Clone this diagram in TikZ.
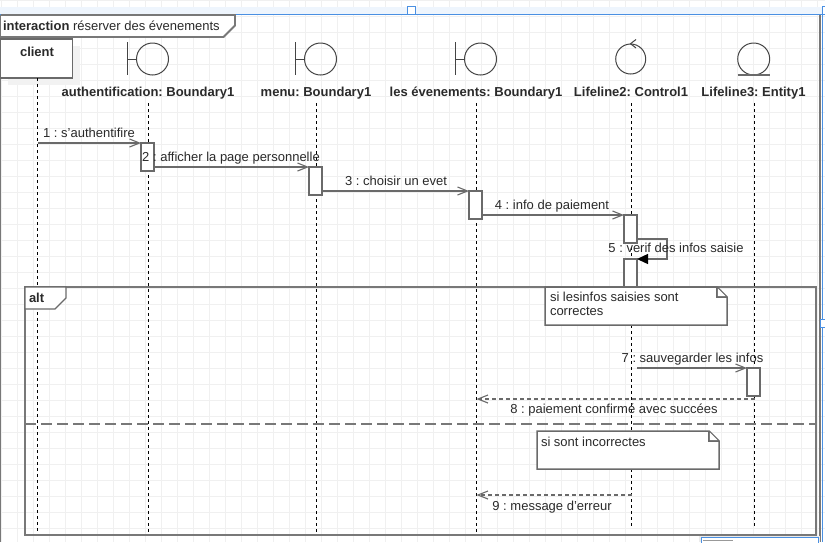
\documentclass[tikz,border=0pt]{standalone}
\usepackage{fontspec}
\setmainfont{Liberation Sans}
\usetikzlibrary{arrows.meta}
\definecolor{gridc}{HTML}{F0F0F0}
\definecolor{linec}{HTML}{6A6A6A}
\definecolor{framec}{HTML}{787878}
\definecolor{textc}{HTML}{2A2A2A}
\definecolor{iconc}{HTML}{444444}
\definecolor{bluec}{HTML}{4A90E2}
\definecolor{stripc}{HTML}{EEF5FD}
\tikzset{
 txt/.style={inner sep=0,outer sep=0,text=textc,font=\fontsize{13}{13.5}\selectfont\frenchspacing,anchor=base},
 boldtxt/.style={txt,font=\fontsize{13}{13.5}\selectfont\bfseries\frenchspacing},
 lifeline/.style={draw=black,line width=1pt,dash pattern=on 3pt off 3pt},
 act/.style={draw=linec,line width=1.4pt,fill=white,inner sep=0,outer sep=0,minimum width=13pt},
 msg/.style={draw=linec,line width=1.4pt,-{Straight Barb[length=10pt,width=8pt,line width=1.1pt]}},
 ret/.style={msg,dash pattern=on 4pt off 3pt},
 selfmsg/.style={draw=linec,line width=1.4pt,-{Triangle[length=11pt,width=10pt,black]}},
 icon/.style={draw=iconc,line width=1pt},
 frameline/.style={draw=framec,line width=1.8pt},
 notebox/.style={draw=linec,line width=1.5pt,fill=white,line join=miter},
 handle/.style={draw=bluec,line width=0.8pt,fill=white},
}
\begin{document}
\begin{tikzpicture}[x=1pt,y=-1pt]
\useasboundingbox (0,0) rectangle (825,542);
\fill[white] (0,0) rectangle (825,542);
% grid
\foreach \gx in {1,17,...,825} \draw[gridc,line width=1pt] (\gx,0) -- (\gx,542);
\foreach \gy in {0,16,...,542} \draw[gridc,line width=1pt] (0,\gy) -- (825,\gy);
% top strip
\fill[stripc] (0,7) rectangle (825,14);
% outer frame
\draw[frameline] (0.5,15) -- (0.5,542);
\draw[frameline] (820,15) -- (820,542);
\draw[bluec,line width=1.2pt] (0,14.5) -- (825,14.5);
\draw[bluec,line width=1pt] (822,15) -- (822,542);
\node[handle,minimum size=8pt,inner sep=0] (h1) at (411,10.5) {};
\node[handle,minimum size=8pt,inner sep=0] (h2) at (826,10.5) {};
\node[handle,minimum size=8pt,inner sep=0] (h3) at (824,323) {};
% lifeline coordinates
\coordinate (ltA) at (148.5,103); \coordinate (lbA) at (148.5,532);
\coordinate (ltM) at (316.5,103); \coordinate (lbM) at (316.5,532);
\coordinate (ltE) at (476.5,103); \coordinate (lbE) at (476.5,532);
\coordinate (ltC) at (631.5,103); \coordinate (lbC) at (631.5,527);
\coordinate (ltN) at (754.5,103); \coordinate (lbN) at (754.5,527);
\coordinate (lbK) at (37.5,532);
% client
\fill[black!5] (8,46) rectangle (80,85);
\node[draw=linec,line width=1.5pt,fill=white,inner sep=0,outer sep=0,minimum width=72pt,minimum height=39pt] (client) at (36.5,58.5) {};
\node[boldtxt] (clientt) at (37,56) {client};
% lifelines
\draw[lifeline] (client.south -| lbK) -- (lbK);
\draw[lifeline] (ltA) -- (lbA);
\draw[lifeline] (ltM) -- (lbM);
\draw[lifeline] (ltE) -- (lbE);
\draw[lifeline] (ltC) -- (lbC);
\draw[lifeline] (ltN) -- (lbN);
% boundary icons
\foreach \cx in {152.5,320.5,480.5}{
 \draw[icon] (\cx,59) circle (16);
 \draw[icon] (\cx-25,42) -- (\cx-25,75);
 \draw[icon] (\cx-25,59) -- (\cx-16,59);
}
% control icon
\draw[icon] (630.7,59) circle (15);
\draw[icon] (636,39.5) -- (630.5,43.7) -- (636,48);
% entity icon
\draw[icon] (753.7,59) circle (16);
\draw[linec,line width=1.8pt] (737.5,75) -- (769.5,75);
% header labels
\node[boldtxt] (nA) at (148,96) {authentification: Boundary1};
\node[boldtxt] (nM) at (316,96) {menu: Boundary1};
\node[boldtxt] (nE) at (476,96) {les évenements: Boundary1};
\node[boldtxt] (nC) at (631,96) {Lifeline2: Control1};
\node[boldtxt] (nN) at (753.5,96) {Lifeline3: Entity1};
% interaction frame tag
\draw[frameline,fill=white] (1,15) -- (235,15) -- (235,25.5) -- (223.5,37) -- (1,37);
\node[txt,anchor=base west] (ftag) at (3,30) {\textbf{interaction} réserver des évenements};
% activations
\node[act,minimum height=28pt] (a1) at (147.5,157) {};
\node[act,minimum height=28pt] (a2) at (315.5,181) {};
\node[act,minimum height=28pt] (a3) at (475.5,205) {};
\node[act,minimum height=28pt] (a4) at (630.5,229) {};
\node[act,minimum height=28pt] (a5) at (630.5,273) {};
\node[act,minimum height=28pt] (a6) at (753.5,382) {};
% alt frame
\draw[frameline] (25,287) rectangle (816,535);
\draw[frameline,dash pattern=on 11pt off 5pt] (25,424) -- (816,424);
\draw[draw=linec,line width=1.3pt,fill=white] (25,287) -- (66,287) -- (66,298) -- (55,309) -- (25,309) -- cycle;
\node[boldtxt,anchor=base west] (altt) at (29,302) {alt};
% messages
\coordinate (s1) at (38,143);
\draw[msg] (s1) -- (a1.north west);
\node[txt] (t1) at (89,137) {1 : s'authentifire};
\draw[msg] (a1.east |- a2.north west) -- (a2.north west);
\node[txt] (t2) at (231,161) {2 : afficher la page personnelle};
\draw[msg] (a2.east |- a3.north west) -- (a3.north west);
\node[txt] (t3) at (396,185) {3 : choisir un evet};
\draw[msg] (a3.east |- a4.north west) -- (a4.north west);
\node[txt] (t4) at (552,209) {4 : info de paiement};
\draw[selfmsg] (a4.east |- 0,239) -- (667,239) -- (667,259) -- (a5.north east);
\node[txt] (t5) at (676,252) {5 : verif des infos saisie};
% note 1
\draw[notebox] (545,287) -- (717,287) -- (727,297) -- (727,325) -- (545,325) -- cycle;
\draw[linec,line width=1.2pt] (717,287) -- (717,297) -- (727,297);
\fill[white] (717.8,288.5) -- (725.5,296.2) -- (717.8,296.2) -- cycle;
\node[txt,anchor=north west,align=left] (n1) at (550,292.5) {si lesinfos saisies sont\\correctes};
% message 7
\coordinate (s7) at (637,368);
\draw[msg] (s7) -- (a6.north west);
\node[txt] (t7) at (692.5,362) {7 : sauvegarder les infos};
% message 8
\coordinate (s8) at (754.5,399);
\draw[ret] (s8) -- (ltE |- s8);
\node[txt] (t8) at (614,413) {8 : paiement confirmé avec succées};
% note 2
\draw[notebox] (537,431) -- (709,431) -- (719,441) -- (719,469) -- (537,469) -- cycle;
\draw[linec,line width=1.2pt] (709,431) -- (709,441) -- (719,441);
\fill[white] (709.8,432.5) -- (717.5,440.2) -- (709.8,440.2) -- cycle;
\node[txt,anchor=base west] (n2) at (541,446) {si sont incorrectes};
% message 9
\coordinate (s9) at (631.5,495);
\draw[ret] (s9) -- (ltE |- s9);
\node[txt] (t9) at (552,510) {9 : message d'erreur};
% bottom panel
\fill[black!8] (699,536) rectangle (820,542);
\draw[bluec,line width=.8pt,fill=white] (701,537.5) rectangle (818,545);
\draw[black!40,line width=1pt] (703,540) -- (733,540);
\end{tikzpicture}
\end{document}
